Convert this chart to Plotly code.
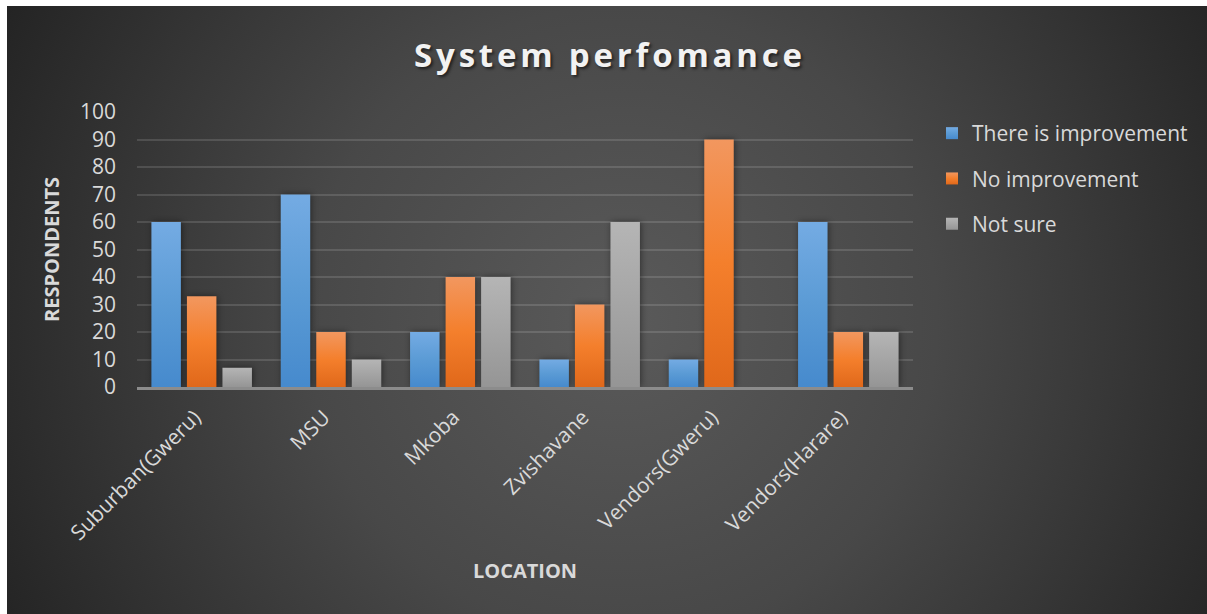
import urllib.parse
import plotly.graph_objects as go

# Survey results: share of respondents per location
locations = ["Suburban(Gweru)", "MSU", "Mkoba", "Zvishavane", "Vendors(Gweru)", "Vendors(Harare)"]
improvement = [60, 70, 20, 10, 10, 60]
no_improvement = [33, 20, 40, 30, 90, 20]
not_sure = [7, 10, 40, 60, 0, 20]

y_ticks = [0, 10, 20, 30, 40, 50, 60, 70, 80, 90, 100]

series = [
    ("There is improvement", improvement, "#5B9BD5"),
    ("No improvement", no_improvement, "#ED7D31"),
    ("Not sure", not_sure, "#A5A5A5"),
]

W, H = 1207, 614
# plot area in pixels
PL, PR, PT, PB = 137, 913, 112, 387
PW, PH = PR - PL, PB - PT

TEXT = "#D9D9D9"
FONT = "Open Sans"

fig = go.Figure()
for name, vals, col in series:
    fig.add_trace(go.Bar(
        x=locations, y=vals, name=name, legendgroup=name,
        marker=dict(color=col, line=dict(width=0)),
    ))

# dark radial backdrop (paper coordinates relative to plot area)
bg_svg = (
    "<svg xmlns='http://www.w3.org/2000/svg' width='1200' height='608' viewBox='0 0 1200 608'>"
    "<defs><radialGradient id='g' gradientUnits='userSpaceOnUse' cx='615' cy='315' r='700'>"
    "<stop offset='0' stop-color='#5A5A5A'/>"
    "<stop offset='0.45' stop-color='#484848'/>"
    "<stop offset='1' stop-color='#232323'/>"
    "</radialGradient></defs>"
    "<rect width='1200' height='608' fill='url(#g)'/></svg>"
)
bg_src = "data:image/svg+xml;charset=utf-8," + urllib.parse.quote(bg_svg)

fig.add_layout_image(dict(
    source=bg_src, xref="paper", yref="paper",
    x=(7 - PL) / PW, y=(PB - 6) / PH,
    sizex=1200 / PW, sizey=608 / PH,
    xanchor="left", yanchor="top", sizing="stretch", layer="below",
))

fig.update_layout(
    width=W, height=H,
    margin=dict(l=PL, r=W - PR, t=PT, b=H - PB, autoexpand=False),
    paper_bgcolor="white",
    plot_bgcolor="rgba(0,0,0,0)",
    barmode="group",
    bargap=0.176,
    bargroupgap=0.17,
    font=dict(family=FONT, color=TEXT, size=21),
    title=dict(
        text="<b>System perfomance</b>",
        x=610 / W, xanchor="center",
        y=1 - 55 / H, yanchor="middle",
        font=dict(family=FONT, size=33, color="#F2F2F2",
                  shadow="2px 2px 3px rgba(0,0,0,0.55)"),
    ),
    legend=dict(
        x=(932 - PL) / PW, xanchor="left",
        y=(PB - 113) / PH, yanchor="top",
        traceorder="grouped", tracegroupgap=15,
        bgcolor="rgba(0,0,0,0)",
        font=dict(family=FONT, size=21, color=TEXT),
        itemwidth=30,
    ),
    xaxis=dict(
        title=dict(text="<b>LOCATION</b>", font=dict(size=20, color=TEXT), standoff=20),
        tickangle=-45, tickfont=dict(size=21, color=TEXT),
        showline=True, linecolor="#8C8C8C", linewidth=2.5,
        showgrid=False, ticks="", ticklabelstandoff=7, ticklabelshift=-7,
        automargin=False,
    ),
    yaxis=dict(
        title=dict(text="<b>RESPONDENTS</b>", font=dict(size=20, color=TEXT), standoff=14),
        range=[0, 100], tickvals=y_ticks,
        tickfont=dict(size=21, color=TEXT),
        gridcolor="rgba(255,255,255,0.13)", gridwidth=1.5,
        zeroline=False, showline=False, ticks="",
        ticklabelstandoff=20, automargin=False,
    ),
)

# styling applied after render: title letter spacing, shaded bar fills, soft bar shadow
post = """
document.querySelectorAll('.gtitle').forEach(function(e){e.style.letterSpacing='3.8px';});
var gd = document.querySelector('.js-plotly-plot');
var svg = gd.querySelector('.main-svg');
var defs = svg.querySelector('defs');
var NS = 'http://www.w3.org/2000/svg';
var shades = [['#74ABE3','#5B9BD5','#468ACD'], ['#F2975F','#F47F2C','#E0681A'], ['#B5B5B5','#A5A5A5','#959595']];
shades.forEach(function(c, i){
  var g = document.createElementNS(NS, 'linearGradient');
  g.setAttribute('id', 'barfill' + i);
  g.setAttribute('x1', '0'); g.setAttribute('y1', '0');
  g.setAttribute('x2', '0'); g.setAttribute('y2', '1');
  c.forEach(function(s, k){
    var st = document.createElementNS(NS, 'stop');
    st.setAttribute('offset', k / (c.length - 1));
    st.setAttribute('stop-color', s);
    g.appendChild(st);
  });
  defs.appendChild(g);
});
gd.querySelectorAll('.barlayer .trace').forEach(function(t, i){
  t.style.filter = 'drop-shadow(1px 0px 3px rgba(0,0,0,0.45))';
  t.querySelectorAll('.point path').forEach(function(p){ p.style.fill = 'url(#barfill' + i + ')'; });
});
gd.querySelectorAll('.legend .traces').forEach(function(t, i){
  t.querySelectorAll('.legendpoints path').forEach(function(p){ p.style.fill = 'url(#barfill' + i + ')'; });
});
"""
fig.write_html("out.html", post_script=post)
